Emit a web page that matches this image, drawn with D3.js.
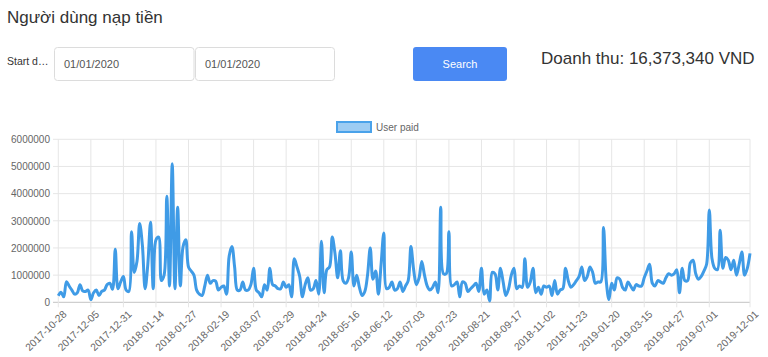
<!DOCTYPE html>
<html>
<head>
<meta charset="utf-8">
<script src="https://cdn.jsdelivr.net/npm/d3@7"></script>
<style>
  html, body { margin: 0; padding: 0; background: #fff; }
  svg { display: block; font-family: "Liberation Sans", Arial, Helvetica, sans-serif; }
</style>
</head>
<body>
<div id="chart"></div>
<script>
// ---- data ----
const title = "Người dùng nạp tiền";
const startLabel = "Start d…";
const dateInputs = ["01/01/2020", "01/01/2020"];
const buttonLabel = "Search";
const revenueText = "Doanh thu: 16,373,340 VND";
const seriesName = "User paid";

// displayed category labels and their position in the category list
const tickLabels = ["2017-10-28","2017-12-05","2017-12-31","2018-01-14","2018-01-27","2018-02-19",
  "2018-03-07","2018-03-29","2018-04-24","2018-05-16","2018-06-12","2018-07-03","2018-07-23",
  "2018-08-21","2018-09-17","2018-11-02","2018-11-23","2019-01-20","2019-03-15","2019-04-27",
  "2019-07-01","2019-12-01"];
const tickIndex = [0,12,24,36,48,60,72,84,96,108,120,132,144,156,168,180,192,204,216,228,240,255];

// amount per category (VND)
const userPaid = [
  240000,370000,200000,760000,600000,450000,300000,350000,650000,420000,
  400000,450000,100000,350000,450000,250000,400000,450000,650000,700000,
  480000,1950000,500000,750000,950000,450000,400000,2600000,1100000,1500000,
  2900000,2100000,500000,1400000,2950000,500000,2300000,2400000,800000,1000000,
  3900000,600000,5100000,500000,3500000,600000,2050000,2300000,1300000,1150000,
  1000000,450000,300000,250000,600000,1000000,700000,800000,780000,450000,
  550000,600000,300000,1700000,2050000,1300000,450000,450000,750000,450000,
  450000,650000,1250000,450000,350000,200000,650000,450000,1250000,650000,
  600000,500000,500000,750000,550000,650000,200000,1600000,1300000,950000,
  200000,650000,900000,450000,500000,800000,300000,2250000,350000,1200000,
  1300000,2400000,1800000,900000,1900000,800000,700000,900000,1850000,600000,
  1000000,550000,250000,400000,1000000,2000000,850000,1150000,300000,1400000,
  2550000,500000,550000,750000,450000,500000,750000,400000,600000,800000,
  2050000,1200000,650000,900000,1500000,1000000,600000,450000,550000,750000,
  350000,3500000,1050000,1050000,2600000,600000,650000,750000,200000,750000,
  700000,400000,500000,600000,700000,400000,1250000,300000,450000,50000,
  1100000,1050000,450000,1250000,750000,250000,500000,1000000,1250000,500000,
  600000,550000,1600000,550000,750000,1250000,350000,550000,300000,600000,
  550000,600000,250000,800000,300000,450000,500000,1250000,800000,550000,
  650000,800000,950000,1300000,800000,950000,1300000,1100000,700000,750000,
  750000,2750000,800000,100000,700000,450000,900000,850000,550000,450000,
  750000,600000,450000,650000,600000,600000,900000,1150000,1400000,700000,
  600000,800000,750000,700000,900000,1050000,1000000,1050000,1200000,350000,
  1250000,800000,800000,1450000,1550000,1050000,850000,950000,1150000,1400000,
  3400000,1600000,1250000,1200000,2650000,1250000,1650000,1550000,1200000,1550000,
  1000000,1400000,1850000,1000000,1250000,1800000
];
const yTicks = [0,1000000,2000000,3000000,4000000,5000000,6000000];

// ---- drawing ----
const W = 768, H = 357;
const svg = d3.select("#chart").append("svg").attr("width", W).attr("height", H);

// header
svg.append("text").attr("x", 7).attr("y", 23).attr("font-size", 17).attr("fill", "#333").text(title);
svg.append("text").attr("x", 7).attr("y", 61).attr("dy", "0.35em").attr("font-size", 10.5).attr("fill", "#333").text(startLabel);

const inputs = [{x: 54.5, w: 139.5}, {x: 195.5, w: 139}];
inputs.forEach((b, i) => {
  svg.append("rect").attr("x", b.x).attr("y", 47.5).attr("width", b.w).attr("height", 33)
    .attr("rx", 3).attr("fill", "#fff").attr("stroke", "#dcdcdc");
  svg.append("text").attr("x", b.x + 9.5).attr("y", 64).attr("dy", "0.35em")
    .attr("font-size", 11).attr("fill", "#555").text(dateInputs[i]);
});
svg.append("rect").attr("x", 413).attr("y", 47).attr("width", 94).attr("height", 34)
  .attr("rx", 3).attr("fill", "#4a89f3");
svg.append("text").attr("x", 460).attr("y", 64).attr("dy", "0.35em").attr("text-anchor", "middle")
  .attr("font-size", 11).attr("fill", "#fff").text(buttonLabel);
svg.append("text").attr("x", 541).attr("y", 63.5).attr("font-size", 17).attr("fill", "#333").text(revenueText);

// chart
const x0 = 58.3, x1 = 750, yTop = 139.3, yBot = 302.3;
const x = d3.scaleLinear().domain([0, userPaid.length - 1]).range([x0, x1]);
const y = d3.scaleLinear().domain([0, 6000000]).range([yBot, yTop]);

const g = svg.append("g");
// horizontal grid
g.selectAll("line.hg").data(yTicks).join("line")
  .attr("x1", 53).attr("x2", x1).attr("y1", d => y(d)).attr("y2", d => y(d))
  .attr("stroke", d => d === 0 ? "#c4c4c4" : "#e6e6e6").attr("stroke-width", 1);
// vertical grid
g.selectAll("line.vg").data(tickIndex).join("line")
  .attr("x1", d => x(d)).attr("x2", d => x(d)).attr("y1", yTop).attr("y2", yBot + 5)
  .attr("stroke", "#e6e6e6").attr("stroke-width", 1);

// y axis labels
const yAxis = d3.axisLeft(y).tickValues(yTicks).tickSize(0).tickPadding(0).tickFormat(d3.format("d"));
const ya = svg.append("g").attr("transform", "translate(50,0)").call(yAxis);
ya.select(".domain").remove();
ya.selectAll("text").attr("font-size", 10).attr("fill", "#666").attr("font-family", "Liberation Sans, Arial, sans-serif");

// x axis labels
const xAxis = d3.axisBottom(x).tickValues(tickIndex).tickSize(0).tickFormat((d, i) => tickLabels[i]);
const xa = svg.append("g").attr("transform", `translate(0,${yBot})`).call(xAxis);
xa.select(".domain").remove();
xa.selectAll("text")
  .attr("font-size", 10.3).attr("fill", "#666").attr("font-family", "Liberation Sans, Arial, sans-serif")
  .attr("text-anchor", "end").attr("dy", "0.35em").attr("y", 0)
  .attr("transform", "translate(6,10) rotate(-44)");

// line
const line = d3.line().x((d, i) => x(i)).y(d => y(d)).curve(d3.curveCatmullRom.alpha(0.5));
svg.append("path").datum(userPaid).attr("d", line)
  .attr("fill", "none").attr("stroke", "#3f9be6").attr("stroke-width", 3)
  .attr("stroke-linejoin", "round");

// legend
svg.append("rect").attr("x", 337).attr("y", 122).attr("width", 34).attr("height", 10)
  .attr("fill", "#9dccf3").attr("stroke", "#4aa2ea").attr("stroke-width", 2);
svg.append("text").attr("x", 376).attr("y", 127).attr("dy", "0.35em").attr("font-size", 10)
  .attr("fill", "#666").text(seriesName);
</script>
</body>
</html>
